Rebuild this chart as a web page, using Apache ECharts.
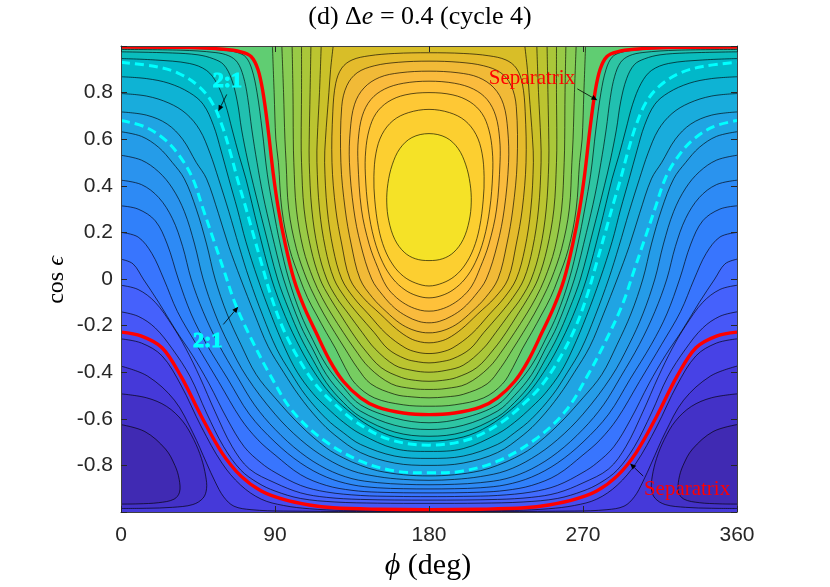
<!DOCTYPE html>
<html>
<head>
<meta charset="utf-8">
<script src="https://cdn.jsdelivr.net/npm/echarts@6/dist/echarts.min.js"></script>
<style>
html, body { margin: 0; padding: 0; background: #fff; }
#chart { width: 830px; height: 587px; }
</style>
</head>
<body>
<div id="chart"></div>
<script>
// every curve is read for 0 <= phi <= 180 only, the plot is mirror symmetric about phi = 180
// points are [phi (deg), cos eps]

const sepUpper = [[0,.995],[40,.993],[60,.986],[70,.975],[76,.955],[80,.9],[83,.8],[86,.64],[89,.45],[92,.3],[96,.15],[101,0],[107,-.12],[114,-.23],[122,-.35],[130,-.44],[140,-.51],[150,-.55],[165,-.575],[180,-.582]];
const sepLower = [[0,-.228],[12,-.245],[24,-.295],[35,-.417],[47,-.59],[59,-.746],[70,-.845],[82,-.91],[95,-.946],[110,-.97],[124,-.982],[150,-.988],[180,-.99]];

// dashed 2:1 curves
const res21Outer = [[0,.93],[20,.912],[33,.885],[45,.83],[53,.76],[59,.66],[64,.54],[68,.43],[72,.33],[77,.2],[82,.07],[88,-.08],[95,-.217],[104,-.345],[114,-.455],[124,-.531],[138,-.617],[157,-.689],[180,-.713]];
const res21Inner = [[0,.68],[14,.653],[26,.596],[35,.52],[42,.43],[48,.3],[54,.17],[60,.04],[67,-.11],[77,-.27],[87,-.41],[100,-.565],[118,-.689],[140,-.782],[161,-.825],[180,-.832]];

// circulating contours between the two separatrices, top to bottom
const circLines = [
  [[0,.993],[40,.99],[60,.982],[68,.972],[73,.952],[76.5,.9],[79.5,.8],[82.5,.64],[85.5,.45],[89,.3],[93,.15],[98,0],[105,-.15],[112,-.26],[120,-.37],[130,-.465],[140,-.54],[160,-.597],[180,-.617]],
  [[0,.985],[35,.982],[55,.972],[63,.958],[68,.93],[71.5,.87],[74,.78],[76.5,.64],[79.5,.5],[83,.36],[88,.2],[95,0],[105,-.2],[112,-.3],[120,-.41],[130,-.5],[140,-.567],[160,-.628],[180,-.646]],
  [[0,.975],[30,.97],[45,.962],[54,.945],[60,.92],[64.5,.86],[68,.76],[70.5,.64],[74,.51],[77.5,.4],[84,.21],[91.5,0],[98,-.13],[105,-.25],[112,-.345],[120,-.445],[130,-.53],[140,-.592],[160,-.657],[180,-.675]],
  [[0,.946],[20,.94],[40,.925],[50,.895],[56,.84],[61,.75],[65,.64],[69,.53],[73,.43],[80,.22],[88,0],[96,-.16],[105,-.3],[113,-.4],[122,-.49],[132,-.56],[145,-.63],[160,-.678],[180,-.696]],
  [[0,.868],[15,.86],[28,.84],[40,.8],[48,.75],[54,.66],[58.5,.55],[63,.43],[68,.3],[73,.16],[80,0],[88,-.16],[96,-.3],[103,-.4],[112,-.49],[120,-.55],[130,-.615],[140,-.665],[160,-.728],[180,-.74]],
  [[0,.796],[15,.785],[28,.755],[38,.71],[46,.64],[52,.54],[57,.43],[63,.29],[69,.14],[75,0],[83,-.16],[91,-.3],[99,-.4],[108,-.5],[120,-.6],[130,-.66],[140,-.71],[160,-.76],[180,-.77]],
  [[0,.717],[15,.703],[27,.665],[36,.6],[44,.5],[50,.43],[57,.28],[63,.14],[70,0],[78,-.15],[86,-.29],[95,-.4],[104,-.5],[115,-.6],[125,-.67],[140,-.745],[160,-.79],[180,-.8]],
  [[0,.632],[12,.612],[22,.565],[30,.5],[37,.43],[44,.3],[50,.15],[55,0],[62,-.15],[70,-.28],[79,-.41],[90,-.51],[105,-.63],[120,-.725],[130,-.768],[140,-.8],[150,-.823],[165,-.84],[180,-.845]],
  [[0,.531],[12,.51],[22,.46],[30,.39],[37,.29],[43,.15],[48,0],[55,-.15],[63,-.28],[73.5,-.42],[90,-.58],[105,-.69],[120,-.77],[135,-.823],[150,-.848],[165,-.86],[180,-.864]],
  [[0,.424],[12,.405],[22,.35],[30,.26],[36,.14],[41,0],[48,-.14],[57,-.28],[68,-.42],[78,-.54],[90,-.645],[105,-.745],[120,-.815],[135,-.857],[150,-.874],[165,-.881],[180,-.883]],
  [[0,.314],[10,.3],[20,.25],[27,.15],[33.5,0],[41,-.15],[50,-.28],[62.5,-.43],[75,-.58],[90,-.7],[105,-.79],[120,-.85],[135,-.883],[150,-.896],[165,-.9],[180,-.901]],
  [[0,.2],[10,.18],[18,.11],[25,0],[33,-.14],[44,-.28],[57,-.44],[70,-.6],[80,-.69],[90,-.755],[105,-.84],[120,-.886],[135,-.907],[150,-.915],[180,-.918]],
  [[0,.085],[7,.065],[13,0],[22,-.1],[32,-.22],[42,-.33],[51.5,-.45],[62,-.6],[72,-.72],[82,-.79],[90,-.83],[105,-.886],[120,-.914],[140,-.929],[160,-.933],[180,-.934]],
  [[0,-.027],[10,-.045],[20,-.1],[30,-.2],[38,-.3],[46,-.42],[55,-.57],[65,-.72],[75,-.815],[90,-.875],[105,-.918],[120,-.937],[140,-.946],[180,-.949]],
  [[0,-.141],[10,-.16],[20,-.21],[30,-.3],[40.5,-.42],[50,-.575],[60,-.72],[70,-.82],[80,-.875],[90,-.91],[105,-.942],[125,-.957],[150,-.962],[180,-.963]]
];

// contours below the lower separatrix that still run across, hugging cos eps = -1
const lowLines = [
  [[0,-.257],[12,-.275],[24,-.33],[35,-.455],[47,-.635],[59,-.79],[70,-.885],[82,-.945],[95,-.972],[110,-.986],[130,-.993],[180,-.995]],
  [[0,-.374],[15.6,-.417],[31.2,-.52],[42,-.66],[50,-.79],[55,-.87],[60,-.935],[66,-.975],[76,-.99],[95,-.996],[180,-.998]]
];

// closed contours round the minimum in the corner, from the left edge and back to it
const cornerRings = [
  [[0,-.493],[15,-.51],[26.7,-.547],[36,-.61],[42.5,-.689],[47,-.77],[49.5,-.846],[50,-.9],[48,-.94],[42,-.968],[30,-.98],[15,-.984],[0,-.985]],
  [[0,-.625],[14,-.655],[26,-.73],[31.5,-.8],[34,-.86],[34.2,-.915],[31,-.945],[22,-.96],[10,-.965],[0,-.966]]
];

// libration contours inside the upper separatrix, outer to inner
const resRings = [
  [[88.5,1],[89.5,.8],[90.5,.6],[92,.5],[94,.3],[98.5,.13],[104.6,0],[109,-.08],[114,-.15],[120,-.23],[125.5,-.3],[131,-.38],[137,-.45],[148,-.51],[165,-.54],[180,-.546]],
  [[94,1],[95,.8],[95.8,.6],[96.5,.5],[98,.3],[102.5,.13],[108.5,0],[113.5,-.08],[118.5,-.15],[125,-.23],[131,-.3],[138,-.38],[146,-.45],[160,-.495],[170,-.506],[180,-.51]],
  [[100,1],[100.5,.8],[100.7,.6],[101,.5],[102.5,.3],[106.5,.13],[112.4,0],[117.5,-.08],[123,-.15],[130,-.23],[136.5,-.3],[145,-.38],[158,-.45],[170,-.47],[180,-.474]],
  [[105.5,1],[105.5,.8],[105.3,.6],[105.5,.5],[107,.3],[111,.13],[116.3,0],[122,-.08],[128,-.15],[135,-.23],[142,-.3],[152,-.38],[164,-.423],[172,-.435],[180,-.439]],
  [[111,1],[110.5,.8],[110,.6],[110,.5],[111.5,.3],[115,.13],[120.2,0],[126,-.08],[133,-.15],[141,-.23],[148.5,-.3],[160,-.37],[170,-.392],[180,-.4]],
  [[117,1],[116,.8],[114.7,.6],[114.5,.5],[116,.3],[119.5,.13],[124.5,0],[131,-.08],[138.5,-.15],[148,-.23],[156,-.3],[166,-.342],[174,-.356],[180,-.36]],
  [[124,1],[122.5,.9],[121.5,.8],[119.5,.6],[119,.5],[120.5,.3],[124,.13],[129,0],[136,-.08],[144.5,-.15],[155,-.235],[166,-.295],[173,-.314],[180,-.32]],
  [[180,.971],[160,.968],[145,.958],[135,.94],[129,.905],[125.5,.84],[123.8,.72],[123.3,.5],[125.5,.3],[129,.15],[133.8,0],[141.5,-.08],[151.5,-.15],[161,-.215],[169,-.255],[175,-.27],[180,-.274]],
  [[180,.935],[162,.93],[148,.915],[138,.885],[132,.83],[129,.74],[128.5,.5],[131,.3],[134.5,.15],[139.7,0],[147,-.08],[155,-.14],[163,-.19],[170,-.217],[176,-.229],[180,-.231]],
  [[180,.892],[163,.885],[151,.865],[142,.82],[136.5,.75],[134,.64],[133.5,.5],[136,.3],[140,.15],[146.5,0],[153,-.07],[160,-.125],[167,-.16],[174,-.182],[180,-.188]],
  [[180,.849],[165,.84],[154,.815],[146,.77],[141,.7],[138.7,.6],[138.5,.5],[140.5,.3],[145,.15],[150,.05],[155,-.03],[161,-.08],[168,-.115],[175,-.134],[180,-.138]],
  [[180,.8],[166,.79],[156,.76],[149,.71],[145,.64],[143,.55],[142.8,.45],[144.5,.3],[148,.17],[153,.07],[159,.0],[166,-.047],[173,-.072],[180,-.081]],
  [[180,.728],[168,.714],[159,.68],[152.5,.62],[149,.54],[147.8,.44],[148.3,.34],[150.5,.22],[154,.13],[159,.06],[165,.012],[172,-.017],[180,-.03]],
  [[180,.624],[170,.607],[163,.56],[158.5,.49],[156,.41],[155.3,.33],[156.5,.25],[160,.17],[165.5,.115],[172,.087],[180,.079]]
];

// MATLAB parula colormap
const PARULA = [[62,38,168],[64,42,180],[66,46,192],[68,50,203],[69,55,213],[70,60,222],[71,65,229],[71,71,235],[72,77,240],[72,82,244],[71,88,248],[70,94,251],[69,99,253],[66,105,254],[62,111,255],[56,117,254],[50,124,252],[47,129,250],[46,135,247],[45,140,243],[43,145,239],[39,150,235],[37,155,232],[35,160,229],[32,165,227],[28,169,223],[24,173,219],[18,177,214],[8,181,208],[1,184,202],[2,186,195],[11,189,189],[25,191,182],[36,193,174],[44,196,167],[49,198,159],[55,200,151],[63,202,142],[74,203,132],[87,204,122],[100,205,111],[114,205,100],[129,204,89],[143,203,78],[157,201,67],[171,199,57],[185,196,49],[197,194,42],[209,191,39],[220,189,41],[230,187,45],[240,186,54],[248,186,61],[254,190,60],[254,195,56],[254,201,52],[252,207,48],[250,214,45],[247,220,42],[245,227,39],[245,233,36],[246,239,32],[247,245,27],[249,251,21]];
function parula(t) {
  const f = Math.max(0, Math.min(1, t)) * (PARULA.length - 1);
  const i = Math.min(PARULA.length - 2, Math.floor(f));
  const w = f - i;
  const c = PARULA[i].map((v, k) => Math.round(v + (PARULA[i + 1][k] - v) * w));
  return 'rgb(' + c.join(',') + ')';
}

function mirror(half) { return half.slice(0, -1).reverse().map(p => [360 - p[0], p[1]]); }
function across(half) { return half.concat(mirror(half)); }
function loop(half) { return half.concat(mirror(half).slice(0, -1)); }
function flip(curve) { return curve.map(p => [360 - p[0], p[1]]); }
function closedRing(half) { return half[0][0] === 180; }

// filled bands, painted from the top band downwards, then the libration island inwards
const fills = [];
const circTop = 0.575, circStep = 0.028;
fills.push({ pts: [[-6,-1.1],[366,-1.1],[366,1.1],[-6,1.1]], t: circTop });
function fillBelow(half, t) {
  const c = across(half);
  fills.push({ pts: c.concat([[366, c[c.length - 1][1]], [366, -1.1], [-6, -1.1], [-6, c[0][1]]]), t: t });
}
circLines.forEach((h, i) => fillBelow(h, circTop - circStep * (i + 1)));
fillBelow(sepLower, 0.125);
fillBelow(lowLines[0], 0.097);
fillBelow(lowLines[1], 0.07);
[0.042, 0.014].forEach((t, i) => {
  const h = cornerRings[i];
  const a = h[0][1], b = h[h.length - 1][1];
  fills.push({ pts: h.concat([[-6, b], [-6, a]]), t: t });
  fills.push({ pts: flip(h).concat([[366, b], [366, a]]), t: t });
});
(function () {
  const c = across(sepUpper);
  fills.push({ pts: c.concat([[366, c[c.length - 1][1]], [366, 1.1], [-6, 1.1], [-6, c[0][1]]]), t: 0.63 });
})();
resRings.forEach((h, i) => {
  const t = i === resRings.length - 1 ? 0.935 : 0.655 + 0.0195 * i;
  if (closedRing(h)) {
    fills.push({ pts: loop(h), t: t });
  } else {
    const c = across(h);
    fills.push({ pts: c.concat([[360 - h[0][0], 1.1], [h[0][0], 1.1]]), t: t });
  }
});

// black contour strokes
const strokes = [];
circLines.concat(lowLines).forEach(h => strokes.push({ pts: across(h), closed: false }));
cornerRings.forEach(h => { strokes.push({ pts: h, closed: false }); strokes.push({ pts: flip(h), closed: false }); });
resRings.forEach(h => strokes.push(closedRing(h) ? { pts: loop(h), closed: true } : { pts: across(h), closed: false }));

const SMOOTH = 0.35;
const serif = '"Liberation Serif", "DejaVu Serif", serif';
const sans = '"Liberation Sans", Arial, sans-serif';

const notes = [
  { text: '2:1', at: [62.2, .85], color: '#00ffff', bold: true, from: [61.8, .792], to: [56.9, .72] },
  { text: '2:1', at: [50.6, -.266], color: '#00ffff', bold: true, from: [59.8, -.195], to: [68.5, -.119] },
  { text: 'Separatrix', at: [240.2, .86], color: '#ff0000', bold: false, from: [266.7, .816], to: [278.4, .767] },
  { text: 'Separatrix', at: [330.8, -.903], color: '#ff0000', bold: false, from: [305.2, -.846], to: [297.5, -.792] }
];

function lineSeries(name, list, styleFn) {
  return {
    type: 'custom', name: name, coordinateSystem: 'cartesian2d', clip: true, silent: true,
    data: list.map(() => [180, 0]),
    renderItem: function (params, api) {
      const item = list[params.dataIndex];
      const pts = item.pts.map(p => api.coord(p));
      return {
        type: item.closed ? 'polygon' : 'polyline',
        shape: { points: pts, smooth: SMOOTH },
        style: Object.assign({ fill: 'none' }, styleFn(item))
      };
    }
  };
}

const chart = echarts.init(document.getElementById('chart'));

const axisCommon = {
  type: 'value', z: 10,
  axisLine: { show: true, onZero: false, lineStyle: { color: '#404040', width: 1 } },
  axisTick: { show: true, inside: true, length: 6, lineStyle: { color: '#262626', width: 1 } },
  splitLine: { show: false }
};

chart.setOption({
  animation: false,
  backgroundColor: '#ffffff',
  grid: { left: 121, right: 93, top: 46, bottom: 75 },
  xAxis: [
    Object.assign({}, axisCommon, { min: 0, max: 360, interval: 90, position: 'bottom',
      axisLabel: { fontSize: 21, color: '#262626', fontFamily: sans, margin: 13 } }),
    Object.assign({}, axisCommon, { min: 0, max: 360, interval: 90, position: 'top', axisLabel: { show: false } })
  ],
  yAxis: [
    Object.assign({}, axisCommon, { min: -1, max: 1, interval: 0.2, position: 'left',
      axisLabel: { fontSize: 21, color: '#262626', fontFamily: sans, margin: 8,
        formatter: v => (Math.abs(v) > 0.99 ? '' : String(Math.round(v * 10) / 10)) } }),
    Object.assign({}, axisCommon, { min: -1, max: 1, interval: 0.2, position: 'right', axisLabel: { show: false } })
  ],
  series: [
    {
      type: 'custom', name: 'bands', coordinateSystem: 'cartesian2d', clip: true, silent: true,
      data: fills.map(() => [180, 0]),
      renderItem: function (params, api) {
        const f = fills[params.dataIndex];
        return {
          type: 'polygon',
          shape: { points: f.pts.map(p => api.coord(p)), smooth: SMOOTH },
          style: { fill: parula(f.t), stroke: parula(f.t), lineWidth: 0.5 }
        };
      }
    },
    lineSeries('contours', strokes, () => ({ stroke: 'rgba(0,0,0,0.8)', lineWidth: 0.8 })),
    lineSeries('2:1', [{ pts: across(res21Outer) }, { pts: across(res21Inner) }],
      () => ({ stroke: '#00ffff', lineWidth: 3, lineDash: [9, 5] })),
    lineSeries('separatrix', [{ pts: across(sepUpper) }, { pts: across(sepLower) }],
      () => ({ stroke: '#ff0000', lineWidth: 3.4 })),
    {
      type: 'custom', name: 'notes', coordinateSystem: 'cartesian2d', silent: true,
      data: notes.map(() => [180, 0]),
      renderItem: function (params, api) {
        const n = notes[params.dataIndex];
        const c = api.coord(n.at), p0 = api.coord(n.from), p1 = api.coord(n.to);
        const dx = p1[0] - p0[0], dy = p1[1] - p0[1], len = Math.hypot(dx, dy);
        const ux = dx / len, uy = dy / len, hl = 6, hw = 2.6;
        const bx = p1[0] - ux * hl, by = p1[1] - uy * hl;
        const textStyle = {
          text: n.text, fill: n.color, fontSize: n.bold ? 22 : 21, fontFamily: serif,
          fontWeight: n.bold ? 'bold' : 'normal',
          align: 'center', verticalAlign: 'middle', textAlign: 'center', textVerticalAlign: 'middle'
        };
        if (n.bold) { textStyle.stroke = n.color; textStyle.lineWidth = 1.1; }
        return {
          type: 'group',
          children: [
            { type: 'line', shape: { x1: p0[0], y1: p0[1], x2: bx, y2: by }, style: { stroke: '#000', lineWidth: 0.8 } },
            { type: 'polygon', shape: { points: [[p1[0], p1[1]], [bx - uy * hw, by + ux * hw], [bx + uy * hw, by - ux * hw]] }, style: { fill: '#000' } },
            { type: 'text', x: c[0], y: c[1], style: textStyle }
          ]
        };
      }
    }
  ],
  graphic: [
    { type: 'text', x: 420, y: 17, z: 20,
      style: { text: '{r|(d) Δ}{i|e}{r| = 0.4 (cycle 4)}',
        rich: { r: { fontSize: 26, fontFamily: serif, fill: '#000' }, i: { fontSize: 26, fontStyle: 'italic', fontFamily: serif, fill: '#000' } },
        align: 'center', verticalAlign: 'middle', textAlign: 'center', textVerticalAlign: 'middle' } },
    { type: 'text', x: 428, y: 566, z: 20,
      style: { text: '{i|ϕ}{r| (deg)}',
        rich: { r: { fontSize: 30, fontFamily: serif, fill: '#000' }, i: { fontSize: 30, fontStyle: 'italic', fontFamily: serif, fill: '#000' } },
        align: 'center', verticalAlign: 'middle', textAlign: 'center', textVerticalAlign: 'middle' } },
    { type: 'text', x: 57, y: 280, rotation: Math.PI / 2, z: 20,
      style: { text: '{r|cos }{i|ϵ}',
        rich: { r: { fontSize: 24, fontFamily: serif, fill: '#000' }, i: { fontSize: 24, fontStyle: 'italic', fontFamily: serif, fill: '#000' } },
        align: 'center', verticalAlign: 'middle', textAlign: 'center', textVerticalAlign: 'middle' } }
  ]
});
</script>
</body>
</html>
